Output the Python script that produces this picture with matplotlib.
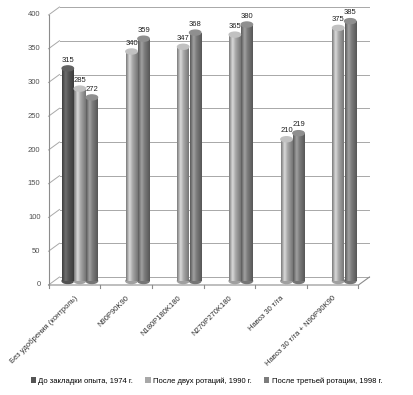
import numpy as np
import matplotlib

matplotlib.use("Agg")
import matplotlib.pyplot as plt
from matplotlib.patches import Ellipse, Patch

plt.rcParams["font.family"] = ["Liberation Sans", "DejaVu Sans"]

categories = [
    "Без удобрения (контроль)",
    "N90P90K90",
    "N180P180K180",
    "N270P270K180",
    "Навоз 30 т/га",
    "Навоз 30 т/га + N90P90K90",
]
series_names = [
    "До закладки опыта, 1974 г.",
    "После двух ротаций, 1990 г.",
    "После третьей ротации, 1998 г.",
]
before_1974 = [315, np.nan, np.nan, np.nan, np.nan, np.nan]
after_1990 = [285, 340, 347, 365, 210, 375]
after_1998 = [272, 359, 368, 380, 219, 385]
y_ticks = [0, 50, 100, 150, 200, 250, 300, 350, 400]

series = [before_1974, after_1990, after_1998]
colors = ["#555555", "#a8a8a8", "#7c7c7c"]

W, H, DPI = 413, 395, 100
fig = plt.figure(figsize=(W / DPI, H / DPI), dpi=DPI)
# axes = middle depth plane of the pseudo-3D box
ax_l, ax_r, ax_b, ax_t = 54, 364, 281, 11
ax = fig.add_axes([ax_l / W, 1 - ax_b / H, (ax_r - ax_l) / W, (ax_b - ax_t) / H])
ax.set_xlim(-0.5, 5.5)
ax.set_ylim(0, 400)
ax.axis("off")

# depth offsets (half depth) in data units
px_x = 6 / (ax_r - ax_l)
px_y = 400 / (ax_b - ax_t)
dx = 5.5 * px_x
dy = 4.0 * px_y
grid_col = "#a8a8a8"

# back wall gridlines + left wall diagonals
for v in y_ticks:
    ax.plot([-0.5 + dx, 5.5 + dx], [v + dy, v + dy], color=grid_col, lw=0.7,
            clip_on=False, zorder=1)
    ax.plot([-0.5 - dx, -0.5 + dx], [v - dy, v + dy], color=grid_col, lw=0.7,
            clip_on=False, zorder=1)
    ax.text(-0.5 - dx - 8 * px_x, v - dy, str(v), ha="right", va="center",
            fontsize=5.5, color="#505050")

# front vertical axis and floor front edge
ax.plot([-0.5 - dx, -0.5 - dx], [-dy, 400 - dy], color="#8c8c8c", lw=0.8,
        clip_on=False, zorder=1)
ax.plot([-0.5 - dx, 5.5 - dx, 5.5 + dx], [-dy, -dy, dy], color="#8c8c8c", lw=0.8,
        clip_on=False, zorder=5)
for b in np.arange(-0.5, 6.0, 1.0):
    ax.plot([b - dx, b - dx], [-dy, -dy - 3 * px_y], color="#8c8c8c", lw=0.8,
            clip_on=False, zorder=5)

# cylinders
x = np.arange(len(categories))
bw = 0.22
offsets = [-0.233, 0.0, 0.233]
t = np.linspace(0, 1, 64)
shade = np.interp(t, [0, 0.3, 0.55, 1], [0.72, 1.3, 1.0, 0.7])
cap_h = 5 * px_y

for vals, off, col in zip(series, offsets, colors):
    base = np.array(matplotlib.colors.to_rgb(col))
    grad = np.clip(shade[None, :, None] * base[None, None, :], 0, 1)
    bars = ax.bar(x + off, vals, width=bw, color=col, linewidth=0, zorder=3)
    for rect, v in zip(bars, vals):
        if np.isnan(v):
            continue
        x0, w = rect.get_x(), rect.get_width()
        im = ax.imshow(grad, extent=[x0, x0 + w, 0, v], aspect="auto",
                       interpolation="bilinear", zorder=3)
        im.set_clip_path(rect)
        ax.add_patch(Ellipse((x0 + w / 2, 0), w, cap_h,
                             color=np.clip(base * 0.95, 0, 1), zorder=2.9, clip_on=False))
        ax.add_patch(Ellipse((x0 + w / 2, v), w, cap_h,
                             color=np.clip(base * 1.15, 0, 1), zorder=4))
        ax.annotate(f"{v:.0f}", (x0 + w / 2, v), xytext=(0, 3.5),
                    textcoords="offset points", ha="center", va="bottom",
                    fontsize=5.5, color="#202020", zorder=6)

ax.set_xlim(-0.5, 5.5)
ax.set_ylim(0, 400)

# category labels
for xi, lab in zip(x, categories):
    ax.text(xi - dx + 0.04, -dy - 12 * px_y, lab, rotation=45,
            rotation_mode="anchor", ha="right", va="center", fontsize=5.5,
            color="#303030")

handles = [Patch(facecolor=c, edgecolor="none") for c in colors]
fig.legend(handles, series_names, loc="center", bbox_to_anchor=(0.5, 14 / H),
           ncol=3, frameon=False, fontsize=5.5, handlelength=0.7,
           handleheight=0.7, handletextpad=0.3, columnspacing=1.6)

fig.savefig("out.png", dpi=DPI)
